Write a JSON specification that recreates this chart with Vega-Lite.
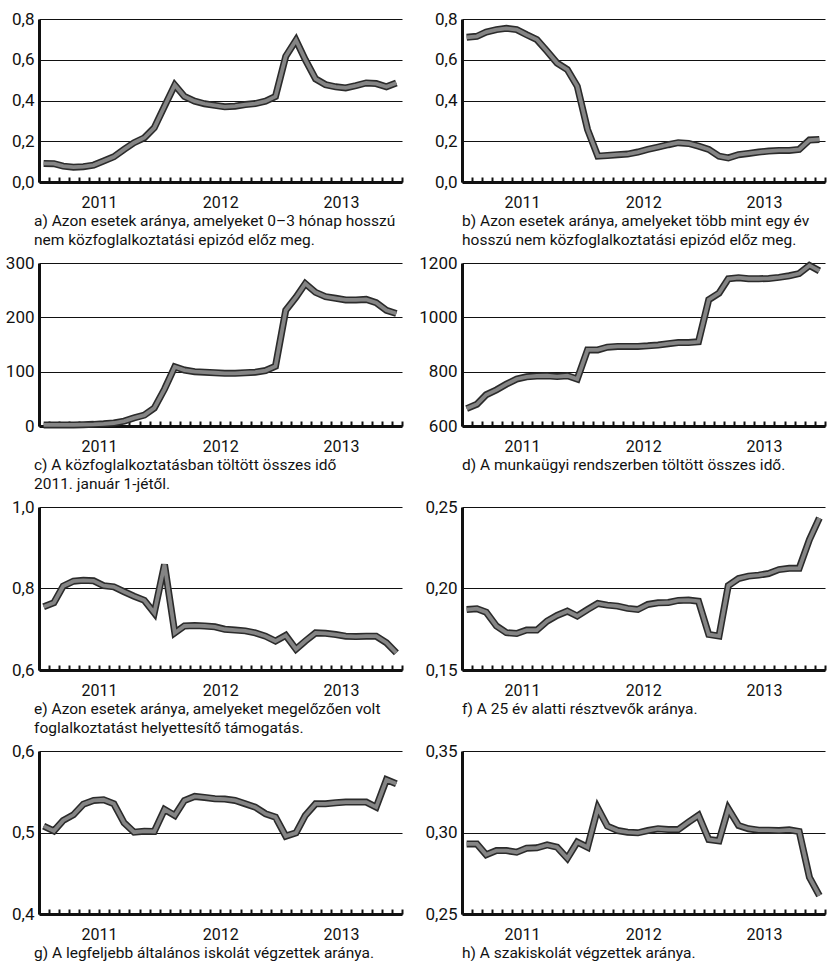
{
  "$schema": "https://vega.github.io/schema/vega-lite/v6.json",
  "padding": {"left": 5, "top": 10, "right": 0, "bottom": 0},
  "background": "white",
  "columns": 2,
  "bounds": "flush",
  "spacing": {"row": 81, "column": 60},
  "data": {"values": [
    {"t": "2011-01-15", "a": 0.091, "b": 0.710, "c": 2, "d": 664, "e": 0.755, "f": 0.1871, "g": 0.5078, "h": 0.2930},
    {"t": "2011-02-15", "a": 0.090, "b": 0.715, "c": 2, "d": 680, "e": 0.765, "f": 0.1876, "g": 0.5020, "h": 0.2930},
    {"t": "2011-03-15", "a": 0.078, "b": 0.736, "c": 2, "d": 715, "e": 0.806, "f": 0.1855, "g": 0.5148, "h": 0.2863},
    {"t": "2011-04-15", "a": 0.073, "b": 0.748, "c": 2, "d": 733, "e": 0.818, "f": 0.1770, "g": 0.5217, "h": 0.2889},
    {"t": "2011-05-15", "a": 0.075, "b": 0.754, "c": 2.5, "d": 754, "e": 0.820, "f": 0.1729, "g": 0.5348, "h": 0.2889},
    {"t": "2011-06-15", "a": 0.083, "b": 0.748, "c": 3, "d": 773, "e": 0.819, "f": 0.1724, "g": 0.5393, "h": 0.2879},
    {"t": "2011-07-15", "a": 0.103, "b": 0.723, "c": 4, "d": 781, "e": 0.807, "f": 0.1745, "g": 0.5402, "h": 0.2904},
    {"t": "2011-08-15", "a": 0.124, "b": 0.699, "c": 5.5, "d": 784, "e": 0.804, "f": 0.1745, "g": 0.5352, "h": 0.2906},
    {"t": "2011-09-15", "a": 0.160, "b": 0.642, "c": 9, "d": 785, "e": 0.792, "f": 0.1800, "g": 0.5119, "h": 0.2924},
    {"t": "2011-10-15", "a": 0.193, "b": 0.584, "c": 15, "d": 782, "e": 0.781, "f": 0.1835, "g": 0.5004, "h": 0.2910},
    {"t": "2011-11-15", "a": 0.217, "b": 0.552, "c": 20, "d": 785, "e": 0.771, "f": 0.1861, "g": 0.5016, "h": 0.2842},
    {"t": "2011-12-15", "a": 0.266, "b": 0.470, "c": 33, "d": 773, "e": 0.740, "f": 0.1831, "g": 0.5012, "h": 0.2941},
    {"t": "2012-01-15", "a": 0.372, "b": 0.258, "c": 68, "d": 880, "e": 0.859, "f": 0.1871, "g": 0.5283, "h": 0.2910},
    {"t": "2012-02-15", "a": 0.476, "b": 0.127, "c": 109, "d": 880, "e": 0.691, "f": 0.1908, "g": 0.5209, "h": 0.3150},
    {"t": "2012-03-15", "a": 0.420, "b": 0.130, "c": 103, "d": 890, "e": 0.708, "f": 0.1898, "g": 0.5393, "h": 0.3039},
    {"t": "2012-04-15", "a": 0.397, "b": 0.134, "c": 100, "d": 893, "e": 0.709, "f": 0.1892, "g": 0.5443, "h": 0.3012},
    {"t": "2012-05-15", "a": 0.384, "b": 0.137, "c": 99, "d": 893, "e": 0.708, "f": 0.1878, "g": 0.5430, "h": 0.3002},
    {"t": "2012-06-15", "a": 0.376, "b": 0.147, "c": 98, "d": 893, "e": 0.706, "f": 0.1871, "g": 0.5414, "h": 0.2998},
    {"t": "2012-07-15", "a": 0.369, "b": 0.160, "c": 97, "d": 895, "e": 0.700, "f": 0.1902, "g": 0.5410, "h": 0.3012},
    {"t": "2012-08-15", "a": 0.372, "b": 0.171, "c": 97, "d": 898, "e": 0.698, "f": 0.1912, "g": 0.5393, "h": 0.3023},
    {"t": "2012-09-15", "a": 0.380, "b": 0.183, "c": 98, "d": 903, "e": 0.696, "f": 0.1914, "g": 0.5352, "h": 0.3018},
    {"t": "2012-10-15", "a": 0.385, "b": 0.193, "c": 99, "d": 907, "e": 0.691, "f": 0.1927, "g": 0.5311, "h": 0.3018},
    {"t": "2012-11-15", "a": 0.397, "b": 0.189, "c": 102, "d": 907, "e": 0.683, "f": 0.1929, "g": 0.5230, "h": 0.3064},
    {"t": "2012-12-15", "a": 0.420, "b": 0.176, "c": 110, "d": 910, "e": 0.671, "f": 0.1922, "g": 0.5189, "h": 0.3105},
    {"t": "2013-01-15", "a": 0.617, "b": 0.160, "c": 213, "d": 1065, "e": 0.685, "f": 0.1718, "g": 0.4955, "h": 0.2957},
    {"t": "2013-02-15", "a": 0.696, "b": 0.127, "c": 237, "d": 1089, "e": 0.651, "f": 0.1708, "g": 0.4996, "h": 0.2949},
    {"t": "2013-03-15", "a": 0.600, "b": 0.118, "c": 262, "d": 1142, "e": 0.671, "f": 0.2018, "g": 0.5209, "h": 0.3146},
    {"t": "2013-04-15", "a": 0.506, "b": 0.134, "c": 246, "d": 1146, "e": 0.691, "f": 0.2061, "g": 0.5352, "h": 0.3043},
    {"t": "2013-05-15", "a": 0.478, "b": 0.140, "c": 238, "d": 1142, "e": 0.690, "f": 0.2076, "g": 0.5352, "h": 0.3023},
    {"t": "2013-06-15", "a": 0.467, "b": 0.147, "c": 235, "d": 1142, "e": 0.687, "f": 0.2082, "g": 0.5365, "h": 0.3014},
    {"t": "2013-07-15", "a": 0.462, "b": 0.152, "c": 232, "d": 1143, "e": 0.683, "f": 0.2092, "g": 0.5373, "h": 0.3014},
    {"t": "2013-08-15", "a": 0.473, "b": 0.155, "c": 232, "d": 1147, "e": 0.682, "f": 0.2116, "g": 0.5373, "h": 0.3012},
    {"t": "2013-09-15", "a": 0.486, "b": 0.155, "c": 233, "d": 1153, "e": 0.683, "f": 0.2124, "g": 0.5373, "h": 0.3016},
    {"t": "2013-10-15", "a": 0.483, "b": 0.160, "c": 227, "d": 1161, "e": 0.683, "f": 0.2124, "g": 0.5311, "h": 0.3006},
    {"t": "2013-11-15", "a": 0.467, "b": 0.206, "c": 213, "d": 1191, "e": 0.667, "f": 0.2300, "g": 0.5648, "h": 0.2725},
    {"t": "2013-12-15", "a": 0.486, "b": 0.209, "c": 207, "d": 1171, "e": 0.642, "f": 0.2433, "g": 0.5598, "h": 0.2613}
  ]},
  "config": {
    "font": "Roboto",
    "view": {"stroke": null},
    "axis": {"labelFont": "Roboto", "labelFontSize": 17, "labelColor": "#111", "domainColor": "#111", "domainWidth": 3, "title": null},
    "axisX": {"grid": false, "tickSize": -5, "tickWidth": 2, "tickColor": "#111", "labelPadding": 17, "labelOverlap": false, "labelFlush": false, "labelFontSize": 16},
    "axisY": {"ticks": false, "grid": true, "gridColor": "#111", "gridWidth": 1, "gridOpacity": 1, "labelPadding": 5},
    "title": {"orient": "bottom", "anchor": "start", "frame": "group", "font": "Roboto", "fontSize": 15.5, "fontWeight": "normal", "color": "#111", "lineHeight": 19, "offset": 4},
    "line": {"strokeJoin": "miter", "strokeCap": "butt"}
  },
  "concat": [
    {
      "width": 363, "height": 163,
      "title": {"text": ["a) Azon esetek aránya, amelyeket 0–3 hónap hosszú", "nem közfoglalkoztatási epizód előz meg."], "dx": -5},
      "encoding": {
        "x": {"field": "t", "type": "temporal", "scale": {"type": "utc", "domain": [1293840000000, 1388534400000]}, "axis": {"tickCount": {"interval": "month", "step": 1}, "labelExpr": "utcmonth(datum.value) == 6 ? utcFormat(datum.value, '%Y') : ''"}},
        "y": {"field": "a", "type": "quantitative", "scale": {"domain": [0, 0.8], "nice": false, "zero": false}, "axis": {"values": [0, 0.2, 0.4, 0.6, 0.8], "labelExpr": "replace(format(datum.value, '.1f'), '.', ',')"}}
      },
      "layer": [
        {"mark": {"type": "line", "color": "#2b2b2b", "strokeWidth": 7}},
        {"mark": {"type": "line", "color": "#858585", "strokeWidth": 3.8}}
      ]
    },
    {
      "width": 363, "height": 163,
      "title": {"text": ["b) Azon esetek aránya, amelyeket több mint egy év", "hosszú nem közfoglalkoztatási epizód előz meg."]},
      "encoding": {
        "x": {"field": "t", "type": "temporal", "scale": {"type": "utc", "domain": [1293840000000, 1388534400000]}, "axis": {"tickCount": {"interval": "month", "step": 1}, "labelExpr": "utcmonth(datum.value) == 6 ? utcFormat(datum.value, '%Y') : ''"}},
        "y": {"field": "b", "type": "quantitative", "scale": {"domain": [0, 0.8], "nice": false, "zero": false}, "axis": {"values": [0, 0.2, 0.4, 0.6, 0.8], "labelExpr": "replace(format(datum.value, '.1f'), '.', ',')"}}
      },
      "layer": [
        {"mark": {"type": "line", "color": "#2b2b2b", "strokeWidth": 7}},
        {"mark": {"type": "line", "color": "#858585", "strokeWidth": 3.8}}
      ]
    },
    {
      "width": 363, "height": 163,
      "title": {"text": ["c) A közfoglalkoztatásban töltött összes idő", "2011. január 1-jétől."], "dx": -5},
      "encoding": {
        "x": {"field": "t", "type": "temporal", "scale": {"type": "utc", "domain": [1293840000000, 1388534400000]}, "axis": {"tickCount": {"interval": "month", "step": 1}, "labelExpr": "utcmonth(datum.value) == 6 ? utcFormat(datum.value, '%Y') : ''"}},
        "y": {"field": "c", "type": "quantitative", "scale": {"domain": [0, 300], "nice": false, "zero": false}, "axis": {"values": [0, 100, 200, 300], "labelExpr": "format(datum.value, 'd')"}}
      },
      "layer": [
        {"mark": {"type": "line", "color": "#2b2b2b", "strokeWidth": 7}},
        {"mark": {"type": "line", "color": "#858585", "strokeWidth": 3.8}}
      ]
    },
    {
      "width": 363, "height": 163,
      "title": {"text": ["d) A munkaügyi rendszerben töltött összes idő."]},
      "encoding": {
        "x": {"field": "t", "type": "temporal", "scale": {"type": "utc", "domain": [1293840000000, 1388534400000]}, "axis": {"tickCount": {"interval": "month", "step": 1}, "labelExpr": "utcmonth(datum.value) == 6 ? utcFormat(datum.value, '%Y') : ''"}},
        "y": {"field": "d", "type": "quantitative", "scale": {"domain": [600, 1200], "nice": false, "zero": false}, "axis": {"values": [600, 800, 1000, 1200], "labelExpr": "format(datum.value, 'd')"}}
      },
      "layer": [
        {"mark": {"type": "line", "color": "#2b2b2b", "strokeWidth": 7}},
        {"mark": {"type": "line", "color": "#858585", "strokeWidth": 3.8}}
      ]
    },
    {
      "width": 363, "height": 163,
      "title": {"text": ["e) Azon esetek aránya, amelyeket megelőzően volt", "foglalkoztatást helyettesítő támogatás."], "dx": -5},
      "encoding": {
        "x": {"field": "t", "type": "temporal", "scale": {"type": "utc", "domain": [1293840000000, 1388534400000]}, "axis": {"tickCount": {"interval": "month", "step": 1}, "labelExpr": "utcmonth(datum.value) == 6 ? utcFormat(datum.value, '%Y') : ''"}},
        "y": {"field": "e", "type": "quantitative", "scale": {"domain": [0.6, 1.0], "nice": false, "zero": false}, "axis": {"values": [0.6, 0.8, 1.0], "labelExpr": "replace(format(datum.value, '.1f'), '.', ',')"}}
      },
      "layer": [
        {"mark": {"type": "line", "color": "#2b2b2b", "strokeWidth": 7}},
        {"mark": {"type": "line", "color": "#858585", "strokeWidth": 3.8}}
      ]
    },
    {
      "width": 363, "height": 163,
      "title": {"text": ["f) A 25 év alatti résztvevők aránya."]},
      "encoding": {
        "x": {"field": "t", "type": "temporal", "scale": {"type": "utc", "domain": [1293840000000, 1388534400000]}, "axis": {"tickCount": {"interval": "month", "step": 1}, "labelExpr": "utcmonth(datum.value) == 6 ? utcFormat(datum.value, '%Y') : ''"}},
        "y": {"field": "f", "type": "quantitative", "scale": {"domain": [0.15, 0.25], "nice": false, "zero": false}, "axis": {"values": [0.15, 0.2, 0.25], "labelExpr": "replace(format(datum.value, '.2f'), '.', ',')"}}
      },
      "layer": [
        {"mark": {"type": "line", "color": "#2b2b2b", "strokeWidth": 7}},
        {"mark": {"type": "line", "color": "#858585", "strokeWidth": 3.8}}
      ]
    },
    {
      "width": 363, "height": 163,
      "title": {"text": ["g) A legfeljebb általános iskolát végzettek aránya."], "dx": -5},
      "encoding": {
        "x": {"field": "t", "type": "temporal", "scale": {"type": "utc", "domain": [1293840000000, 1388534400000]}, "axis": {"tickCount": {"interval": "month", "step": 1}, "labelExpr": "utcmonth(datum.value) == 6 ? utcFormat(datum.value, '%Y') : ''"}},
        "y": {"field": "g", "type": "quantitative", "scale": {"domain": [0.4, 0.6], "nice": false, "zero": false}, "axis": {"values": [0.4, 0.5, 0.6], "labelExpr": "replace(format(datum.value, '.1f'), '.', ',')"}}
      },
      "layer": [
        {"mark": {"type": "line", "color": "#2b2b2b", "strokeWidth": 7}},
        {"mark": {"type": "line", "color": "#858585", "strokeWidth": 3.8}}
      ]
    },
    {
      "width": 363, "height": 163,
      "title": {"text": ["h) A szakiskolát végzettek aránya."]},
      "encoding": {
        "x": {"field": "t", "type": "temporal", "scale": {"type": "utc", "domain": [1293840000000, 1388534400000]}, "axis": {"tickCount": {"interval": "month", "step": 1}, "labelExpr": "utcmonth(datum.value) == 6 ? utcFormat(datum.value, '%Y') : ''"}},
        "y": {"field": "h", "type": "quantitative", "scale": {"domain": [0.25, 0.35], "nice": false, "zero": false}, "axis": {"values": [0.25, 0.3, 0.35], "labelExpr": "replace(format(datum.value, '.2f'), '.', ',')"}}
      },
      "layer": [
        {"mark": {"type": "line", "color": "#2b2b2b", "strokeWidth": 7}},
        {"mark": {"type": "line", "color": "#858585", "strokeWidth": 3.8}}
      ]
    }
  ]
}
